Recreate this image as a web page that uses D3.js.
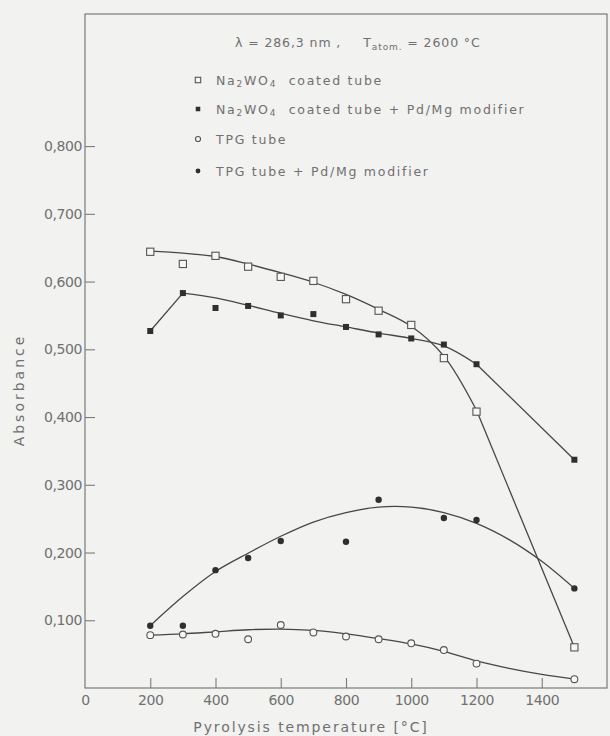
<!DOCTYPE html>
<html>
<head>
<meta charset="utf-8">
<script src="https://cdn.jsdelivr.net/npm/d3@7"></script>
<style>
  html, body { margin: 0; padding: 0; background: #f2f2f0; }
  svg { display: block; }
  text { font-family: "DejaVu Sans", sans-serif; fill: #707070; }
</style>
</head>
<body>
<svg id="chart" width="610" height="736"></svg>
<script>
// Pyrolysis temperatures (°C) and measured absorbance per series
const temps = [200, 300, 400, 500, 600, 700, 800, 900, 1000, 1100, 1200, 1500];
const naCoated      = [0.644, 0.626, 0.638, 0.622, 0.607, 0.601, 0.574, 0.557, 0.536, 0.487, 0.408, 0.060];
const naCoatedPdMg  = [0.527, 0.583, 0.561, 0.564, 0.550, 0.552, 0.533, 0.522, 0.516, 0.507, 0.478, 0.337];
const tpgTube       = [0.078, 0.079, 0.080, 0.072, 0.093, 0.082, 0.076, 0.072, 0.066, 0.056, 0.036, 0.013];
const tpgPdMgTemps  = [200, 300, 400, 500, 600, 800, 900, 1100, 1200, 1500];
const tpgPdMg       = [0.092, 0.092, 0.174, 0.192, 0.217, 0.216, 0.278, 0.251, 0.248, 0.147];

// Hand-fitted trend curves (temperature, absorbance); "tail" parts are straight
const naFitTemps    = [200, 300, 400, 500, 600, 700, 800, 900, 1000, 1100, 1200];
const naFit         = [0.645, 0.642, 0.637, 0.626, 0.613, 0.599, 0.581, 0.559, 0.534, 0.490, 0.410];
const naTailTemps   = [1200, 1500];
const naTail        = [0.410, 0.060];
const naPdLeadTemps = [200, 300];
const naPdLead      = [0.527, 0.583];
const naPdFitTemps  = [300, 400, 500, 600, 700, 800, 900, 1000, 1100, 1200];
const naPdFit       = [0.583, 0.576, 0.565, 0.553, 0.542, 0.533, 0.524, 0.516, 0.505, 0.478];
const naPdTailTemps = [1200, 1500];
const naPdTail      = [0.478, 0.337];
const tpgFitTemps   = [200, 300, 400, 500, 600, 700, 800, 900, 1000, 1100, 1200, 1300, 1400, 1500];
const tpgFit        = [0.078, 0.080, 0.083, 0.086, 0.087, 0.085, 0.080, 0.073, 0.065, 0.054, 0.040, 0.029, 0.020, 0.013];
const tpgPdFitTemps = [200, 300, 400, 500, 600, 700, 800, 900, 1000, 1100, 1200, 1300, 1400, 1500];
const tpgPdFit      = [0.092, 0.135, 0.172, 0.199, 0.224, 0.245, 0.259, 0.267, 0.267, 0.259, 0.243, 0.219, 0.187, 0.147];

// Axis ticks
const xTicks = [0, 200, 400, 600, 800, 1000, 1200, 1400];
const yTicks = [0.1, 0.2, 0.3, 0.4, 0.5, 0.6, 0.7, 0.8];

// Legend entries
const legendLabels = [
  ["Na", "2", "WO", "4", "  coated tube"],
  ["Na", "2", "WO", "4", "  coated tube + Pd/Mg modifier"],
  ["TPG tube"],
  ["TPG tube + Pd/Mg modifier"]
];
const legendSymbols = ["squareOpen", "squareFilled", "circleOpen", "circleFilled"];

const svg = d3.select("#chart");
const ink = "#474747";
const x = d3.scaleLinear().domain([0, 1600]).range([85, 607]);
const y = d3.scaleLinear().domain([0, 0.995]).range([688, 14]);

// Frame
svg.append("rect")
  .attr("x", x(0)).attr("y", y(0.995))
  .attr("width", x(1600) - x(0)).attr("height", y(0) - y(0.995))
  .attr("fill", "none").attr("stroke", "#7a7a7a").attr("stroke-width", 1.2);

// Axes with inward ticks
const yAxis = svg.append("g").attr("transform", `translate(${x(0)},0)`)
  .call(d3.axisLeft(y).tickValues(yTicks).tickSize(-10).tickPadding(3)
    .tickFormat(d => d.toFixed(3).replace(".", ",")));
const xAxis = svg.append("g").attr("transform", `translate(0,${y(0)})`)
  .call(d3.axisBottom(x).tickValues(xTicks).tickSize(-10).tickPadding(7)
    .tickFormat(d => d));
[yAxis, xAxis].forEach(g => {
  g.select(".domain").remove();
  g.selectAll(".tick line").attr("stroke", "#7a7a7a").attr("stroke-width", 1.1);
  g.selectAll(".tick text").style("font-size", "14px").style("letter-spacing", "-0.4px")
    .attr("fill", "#707070");
});
xAxis.selectAll(".tick").filter(d => d === 0).select("line").remove();

// Axis titles
svg.append("text")
  .attr("transform", `translate(24,390) rotate(-90)`)
  .attr("text-anchor", "middle")
  .style("font-size", "14px").style("letter-spacing", "3px")
  .text("Absorbance");
svg.append("text")
  .attr("x", 311).attr("y", 732)
  .attr("text-anchor", "middle")
  .style("font-size", "14px").style("letter-spacing", "1.9px")
  .text("Pyrolysis temperature [°C]");

// Trend curves
const line = d3.line().x(d => x(d[0])).y(d => y(d[1]));
const pairs = (ts, vs) => ts.map((t, i) => [t, vs[i]]);
const curves = [
  [pairs(naFitTemps, naFit), d3.curveCatmullRom],
  [pairs(naTailTemps, naTail), d3.curveLinear],
  [pairs(naPdLeadTemps, naPdLead), d3.curveLinear],
  [pairs(naPdFitTemps, naPdFit), d3.curveCatmullRom],
  [pairs(naPdTailTemps, naPdTail), d3.curveLinear],
  [pairs(tpgFitTemps, tpgFit), d3.curveCatmullRom],
  [pairs(tpgPdFitTemps, tpgPdFit), d3.curveCatmullRom]
];
curves.forEach(([pts, curve]) => {
  svg.append("path").attr("d", line.curve(curve)(pts))
    .attr("fill", "none").attr("stroke", ink).attr("stroke-width", 1.3);
});

// Markers
function marker(sel, kind, cx, cy, scale) {
  const s = scale || 1;
  if (kind === "squareOpen") {
    sel.append("rect").attr("x", cx - 3.6 * s).attr("y", cy - 3.6 * s)
      .attr("width", 7.2 * s).attr("height", 7.2 * s)
      .attr("fill", "#f7f7f5").attr("stroke", "#555").attr("stroke-width", 1.1);
  } else if (kind === "squareFilled") {
    sel.append("rect").attr("x", cx - 3 * s).attr("y", cy - 3 * s)
      .attr("width", 6 * s).attr("height", 6 * s).attr("fill", "#2f2f2f");
  } else if (kind === "circleOpen") {
    sel.append("circle").attr("cx", cx).attr("cy", cy).attr("r", 3.4 * s)
      .attr("fill", "#f7f7f5").attr("stroke", "#555").attr("stroke-width", 1.1);
  } else {
    sel.append("circle").attr("cx", cx).attr("cy", cy).attr("r", 3.2 * s)
      .attr("fill", "#2f2f2f");
  }
}
const series = [
  [temps, naCoated, "squareOpen"],
  [temps, naCoatedPdMg, "squareFilled"],
  [temps, tpgTube, "circleOpen"],
  [tpgPdMgTemps, tpgPdMg, "circleFilled"]
];
const markG = svg.append("g");
series.forEach(([ts, vs, kind]) => {
  ts.forEach((t, i) => marker(markG, kind, x(t), y(vs[i])));
});

// Conditions line
const cond = svg.append("text").attr("x", 235).attr("y", 47)
  .style("font-size", "12.5px").style("letter-spacing", "0.9px");
cond.append("tspan").text("λ = 286,3 nm ,");
cond.append("tspan").attr("dx", 22).text("T");
cond.append("tspan").attr("dy", 3).style("font-size", "9px").text("atom.");
cond.append("tspan").attr("dy", -3).text(" = 2600 °C");

// Legend
const legendY = [80, 109, 139, 171];
legendLabels.forEach((parts, i) => {
  marker(svg, legendSymbols[i], 198, legendY[i], 0.75);
  const t = svg.append("text").attr("x", 216).attr("y", legendY[i] + 5)
    .style("font-size", "12.5px").style("letter-spacing", "1.75px")
    .style("white-space", "pre");
  parts.forEach((p, j) => {
    if (parts.length > 1 && (j === 1 || j === 3)) {
      t.append("tspan").attr("dy", 2).style("font-size", "9px").text(p);
    } else {
      const ts = t.append("tspan").text(p);
      if (j === 2 || j === 4) ts.attr("dy", -2);
    }
  });
});
</script>
</body>
</html>
